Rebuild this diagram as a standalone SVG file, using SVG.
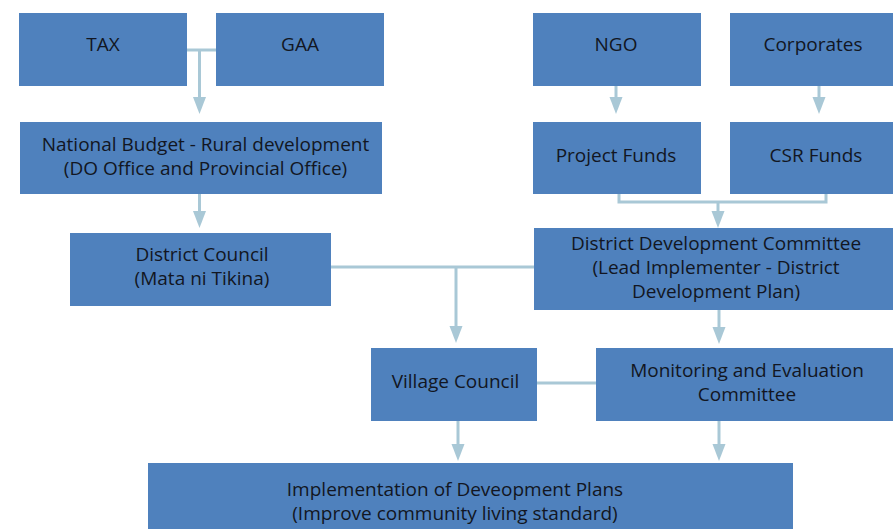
<svg xmlns="http://www.w3.org/2000/svg" width="893" height="529" viewBox="0 0 893 529">
<defs>
<style>
.box{fill:#4F81BD;}
.t{font-family:"Open Sans","Noto Sans",sans-serif;font-size:19px;fill:#121622;text-anchor:middle;}
.c{fill:none;stroke:#A9C8D6;stroke-width:3;}
.a{fill:#A9C8D6;}
</style>
</defs>
<rect width="893" height="529" fill="#FFFFFF"/>
<g id="connectors">
<path class="c" d="M187,50 H216"/>
<path class="c" d="M199.5,50 V97"/>
<path class="a" d="M193,97 H206 L199.5,114 Z"/>
<path class="c" d="M199.5,194 V211"/>
<path class="a" d="M193,211 H206 L199.5,228 Z"/>
<path class="c" d="M616,86 V97"/>
<path class="a" d="M609.5,97 H622.5 L616,114 Z"/>
<path class="c" d="M819,86 V97"/>
<path class="a" d="M812.5,97 H825.5 L819,114 Z"/>
<path class="c" d="M619,194 V202 H826 V194"/>
<path class="c" d="M718,202 V211"/>
<path class="a" d="M711.5,211 H724.5 L718,228 Z"/>
<path class="c" d="M331,267 H534"/>
<path class="c" d="M456,267 V326"/>
<path class="a" d="M449.5,326 H462.5 L456,343 Z"/>
<path class="c" d="M537,383 H596"/>
<path class="c" d="M719,310 V327"/>
<path class="a" d="M712.5,327 H725.5 L719,344 Z"/>
<path class="c" d="M458,421 V444"/>
<path class="a" d="M451.5,444 H464.5 L458,461 Z"/>
<path class="c" d="M719,421 V444"/>
<path class="a" d="M712.5,444 H725.5 L719,461 Z"/>
</g>
<g id="tax"><rect class="box" x="19" y="13" width="168" height="73"/><text class="t" x="103" y="51">TAX</text></g>
<g id="gaa"><rect class="box" x="216" y="13" width="168" height="73"/><text class="t" x="300" y="51">GAA</text></g>
<g id="ngo"><rect class="box" x="533" y="13" width="168" height="73"/><text class="t" x="616" y="51">NGO</text></g>
<g id="corporates"><rect class="box" x="730" y="13" width="163" height="73"/><text class="t" x="813" y="51">Corporates</text></g>
<g id="national-budget"><rect class="box" x="20" y="122" width="362" height="72"/><text class="t" x="205.5" y="151">National Budget - Rural development</text><text class="t" x="205.5" y="174.5">(DO Office and Provincial Office)</text></g>
<g id="project-funds"><rect class="box" x="533" y="122" width="168" height="72"/><text class="t" x="616" y="162">Project Funds</text></g>
<g id="csr-funds"><rect class="box" x="730" y="122" width="163" height="72"/><text class="t" x="816" y="162">CSR Funds</text></g>
<g id="district-council"><rect class="box" x="70" y="233" width="261" height="73"/><text class="t" x="202" y="261">District Council</text><text class="t" x="202" y="285">(Mata ni Tikina)</text></g>
<g id="ddc"><rect class="box" x="534" y="228" width="359" height="82"/><text class="t" x="716" y="250">District Development Committee</text><text class="t" x="716" y="274">(Lead Implementer - District</text><text class="t" x="716" y="298">Development Plan)</text></g>
<g id="village-council"><rect class="box" x="371" y="348" width="166" height="73"/><text class="t" x="455.5" y="388">Village Council</text></g>
<g id="me-committee"><rect class="box" x="596" y="348" width="297" height="73"/><text class="t" x="747" y="377">Monitoring and Evaluation</text><text class="t" x="747" y="401">Committee</text></g>
<g id="implementation"><rect class="box" x="148" y="463" width="645" height="70"/><text class="t" x="455" y="496">Implementation of Deveopment Plans</text><text class="t" x="455" y="520">(Improve community living standard)</text></g>
</svg>
